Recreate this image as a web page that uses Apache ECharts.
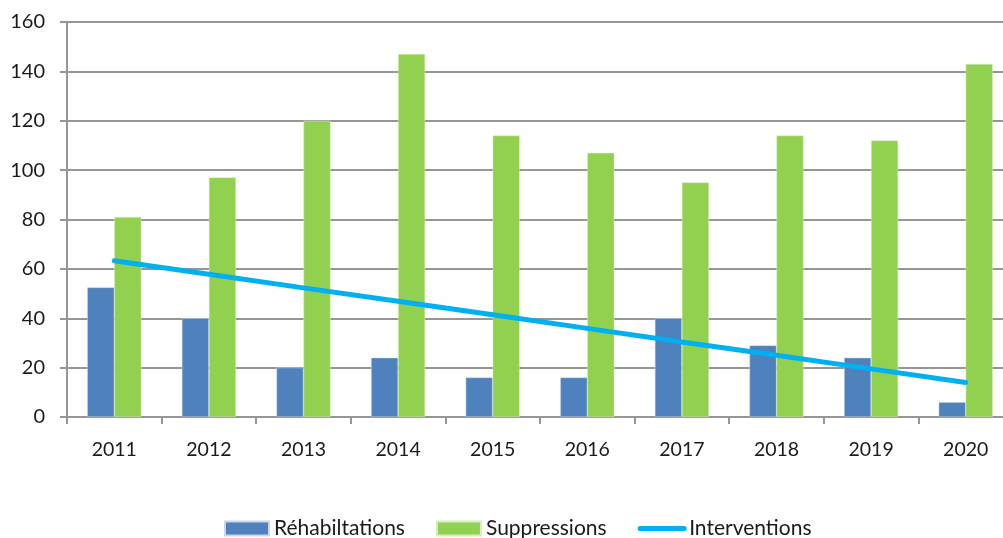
<!DOCTYPE html>
<html>
<head>
<meta charset="UTF-8">
<title>Interventions</title>
<script src="https://cdn.jsdelivr.net/npm/echarts@6/dist/echarts.min.js"></script>
<style>
  html, body { margin: 0; padding: 0; background: #fff; }
  #chart { width: 1003px; height: 538px; }
</style>
</head>
<body>
<div id="chart"></div>
<script>
// données
var annees = ['2011', '2012', '2013', '2014', '2015', '2016', '2017', '2018', '2019', '2020'];
var rehabilitations = [52.5, 40, 20, 24, 16, 16, 40, 29, 24, 6];
var suppressions = [81, 97, 120, 147, 114, 107, 95, 114, 112, 143];
var interventions = [63.3, 57.8, 52.3, 46.9, 41.4, 35.9, 30.4, 25.0, 19.5, 14.0];

var police = 'Lato, "Open Sans", sans-serif';
var gris = '#969696';

var myChart = echarts.init(document.getElementById('chart'));

var option = {
    animation: false,
    grid: {
        left: 67,
        width: 946,
        top: 22,
        bottom: 121,
        containLabel: false,
        outerBoundsMode: 'none'
    },
    legend: {
        left: 219,
        top: 513,
        itemWidth: 44,
        itemHeight: 14,
        itemGap: 31,
        textStyle: { fontFamily: police, fontSize: 21, color: '#1a1a1a' },
        data: [
            { name: 'Réhabiltations', icon: 'rect' },
            { name: 'Suppressions', icon: 'rect' },
            { name: 'Interventions', itemStyle: { opacity: 0 }, lineStyle: { width: 5, cap: 'round' } }
        ]
    },
    xAxis: {
        type: 'category',
        data: annees,
        axisLine: { lineStyle: { color: gris, width: 2 } },
        axisTick: { show: true, length: 7, lineStyle: { color: gris, width: 2 } },
        axisLabel: { fontFamily: police, fontSize: 19.5, color: '#1a1a1a', margin: 23 }
    },
    yAxis: {
        type: 'value',
        min: 0,
        max: 160,
        interval: 20,
        axisLine: { show: true, lineStyle: { color: gris, width: 2 } },
        axisTick: { show: true, length: 7, lineStyle: { color: gris, width: 2 } },
        splitLine: { lineStyle: { color: gris, width: 2 } },
        axisLabel: { fontFamily: police, fontSize: 20, color: '#1a1a1a', margin: 22 }
    },
    series: [
        {
            name: 'Réhabiltations',
            type: 'bar',
            data: rehabilitations,
            barWidth: 27,
            barGap: '0%',
            itemStyle: { color: '#4F81BD', borderColor: '#c9d7ea', borderWidth: 0.5 }
        },
        {
            name: 'Suppressions',
            type: 'bar',
            data: suppressions,
            barWidth: 27,
            barGap: '0%',
            itemStyle: { color: '#92D050', borderColor: '#d6efbf', borderWidth: 0.5 }
        },
        {
            name: 'Interventions',
            type: 'line',
            data: interventions,
            symbol: 'none',
            lineStyle: { color: '#00B0F0', width: 5, cap: 'round' },
            itemStyle: { color: '#00B0F0' },
            z: 5
        }
    ]
};

myChart.setOption(option);
</script>
</body>
</html>
